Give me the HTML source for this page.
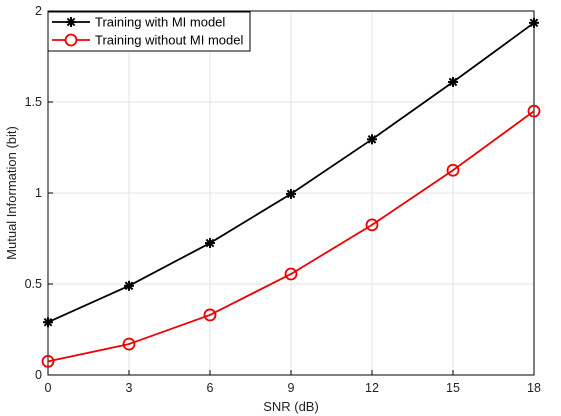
<!DOCTYPE html>
<html><head><meta charset="utf-8"><style>
body{margin:0;background:#fff;}
svg{display:block;font-family:"Liberation Sans",sans-serif;}
</style></head><body>
<svg id="c" width="561" height="416"></svg>
<script>
const xCats=[0,3,6,9,12,15,18];
const withMI=[0.29,0.49,0.725,0.995,1.295,1.61,1.935];
const withoutMI=[0.075,0.17,0.33,0.555,0.825,1.125,1.45];
const yTicks=[0,0.5,1,1.5,2];
const yTickLabels=["0","0.5","1","1.5","2"];
const L=48,R=534,T=11,B=375;
const sx=v=>L+(v-0)/(18-0)*(R-L);
const sy=v=>B-(v/2)*(B-T);
const svg=document.getElementById('c');
const NS='http://www.w3.org/2000/svg';
function mk(t,a,p){const e=document.createElementNS(NS,t);for(const k in a)e.setAttribute(k,a[k]);(p||svg).appendChild(e);return e;}
xCats.forEach(v=>{const g=mk('line',{x1:sx(v),x2:sx(v),y1:T,y2:B,stroke:'#e3e3e3','stroke-width':1});


const tk=mk('line',{x1:sx(v),x2:sx(v),y1:B,y2:B-5,stroke:'#000'});


const t=mk('text',{x:sx(v),y:B+17,'text-anchor':'middle','font-size':12.5,fill:'#222'});t.textContent=v;

});
yTicks.forEach((v,i)=>{const g=mk('line',{x1:L,x2:R,y1:sy(v),y2:sy(v),stroke:'#e3e3e3'});


const tk=mk('line',{x1:L,x2:L+5,y1:sy(v),y2:sy(v),stroke:'#000'});


const t=mk('text',{x:L-6,y:sy(v)+4,'text-anchor':'end','font-size':12.5,fill:'#222'});t.textContent=yTickLabels[i];

});
const box=mk('rect',{x:L,y:T,width:R-L,height:B-T,fill:'none',stroke:'#000','stroke-width':1});


function star(x,y,p){const r=5;[[0,-r,0,r],[-r,0,r,0],[-3.6,-3.6,3.6,3.6],[-3.6,3.6,3.6,-3.6]].forEach(d=>mk('line',{x1:x+d[0],y1:y+d[1],x2:x+d[2],y2:y+d[3],stroke:'#000','stroke-width':2},p));}
function series(vals,col,name,marker){const g=mk('g',{});


mk('polyline',{points:vals.map((v,i)=>sx(xCats[i])+','+sy(v)).join(' '),fill:'none',stroke:col,'stroke-width':1.8},g);
vals.forEach((v,i)=>{if(marker==='star')star(sx(xCats[i]),sy(v),g);else mk('circle',{cx:sx(xCats[i]),cy:sy(v),r:5.5,fill:'none',stroke:col,'stroke-width':1.8},g);});}
series(withMI,'#000','series-with-mi','star');
series(withoutMI,'#e00','series-without-mi','circle');
const lg=mk('g',{});


mk('rect',{x:L,y:T+1,width:202,height:39,fill:'#fff',stroke:'#000'},lg);
mk('line',{x1:52,x2:90,y1:22,y2:22,stroke:'#000','stroke-width':1.8},lg);star(71,22,lg);
let t1=mk('text',{x:95,y:26.5,'font-size':13,fill:'#000'},lg);t1.textContent='Training with MI model';


mk('line',{x1:52,x2:90,y1:40,y2:40,stroke:'#e00','stroke-width':1.8},lg);mk('circle',{cx:71,cy:40,r:5.5,fill:'#fff',stroke:'#e00','stroke-width':1.8},lg);
let t2=mk('text',{x:95,y:44.5,'font-size':13,fill:'#000'},lg);t2.textContent='Training without MI model';


const xt=mk('text',{x:(L+R)/2,y:411,'text-anchor':'middle','font-size':13,fill:'#222'});xt.textContent='SNR (dB)';


const yt=mk('text',{x:0,y:0,'text-anchor':'middle','font-size':13,fill:'#222',transform:'translate(16,'+(T+B)/2+') rotate(-90)'});yt.textContent='Mutual Information (bit)';


</script>
</body></html>
